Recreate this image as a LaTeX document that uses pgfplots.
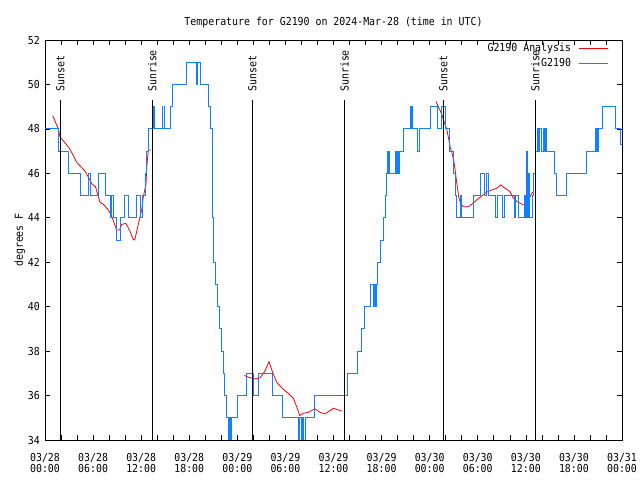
\documentclass[border=0pt]{standalone}
\usepackage{fontspec}
\newfontfamily\gfont[FakeStretch=0.9]{DejaVu Sans Mono}
\usepackage{pgfplots}
\pgfplotsset{compat=1.18}
\definecolor{gblue}{RGB}{16,128,255}
\newcommand{\gf}{\gfont\fontsize{11bp}{11bp}\selectfont}
\begin{document}
\begin{tikzpicture}
\path[use as bounding box] (-45bp,-40bp) rectangle (595bp,440bp);
\begin{axis}[
  at={(0bp,0bp)}, anchor=south west,
  scale only axis, width=577bp, height=400bp,
  xmin=0, xmax=72, ymin=34, ymax=52,
  xtick={0,6,...,72}, minor xtick={0,2,...,72},
  ytick={34,36,...,52},
  tick align=inside, major tick length=5bp, minor tick length=5bp,
  tick style={black, line width=0.6bp},
  axis line style={line width=0.8bp},
  /pgf/number format/assume math mode=true,
  ticklabel style={font=\gf},
  yticklabel style={anchor=east, inner sep=0pt, xshift=-5bp},
  xticklabel style={align=center, anchor=north, inner sep=0pt, yshift=-13bp},
  xticklabels={{03/28\\00:00},{03/28\\06:00},{03/28\\12:00},{03/28\\18:00},{03/29\\00:00},{03/29\\06:00},{03/29\\12:00},{03/29\\18:00},{03/30\\00:00},{03/30\\06:00},{03/30\\12:00},{03/30\\18:00},{03/31\\00:00}},
  legend plot pos=right,
  legend cell align=right,
  legend style={draw=none, fill=none, inner sep=0pt, outer sep=0pt,
    at={(axis description cs:1,1)}, anchor=north east, xshift=-13bp, yshift=-4bp,
    nodes={inner sep=0pt, text height=8bp, text depth=2bp, font=\gf},
    column sep=8bp, row sep=4.4bp},
]
% Analysis (red)
\addplot[red, line width=0.8bp, legend image code/.code={\draw[red, line width=1bp] (0bp,0bp) -- (29bp,0bp);}] coordinates {
(0.96,48.6) (1.66,48.0) (1.87,47.65) (3.1,47.1) (3.95,46.5) (5.0,46.1) (5.6,45.7) (5.9,45.5) (6.3,45.4)
(6.86,44.7) (7.3,44.6) (7.9,44.35) (8.3,44.1) (8.94,43.45) (9.3,43.45) (9.57,43.7) (10.1,43.75)
(10.6,43.4) (11.0,43.03) (11.2,43.0) (11.64,43.7) (12.06,44.35) (12.27,44.95) (12.6,45.5) (12.7,46.3)
(12.9,47.05) (13.2,47.05)};
\addlegendentry{G2190 Analysis}
\addplot[red, line width=0.8bp, forget plot] coordinates {
(24.87,36.9) (25.6,36.8) (26.3,36.75) (26.83,36.8) (27.45,37.1) (27.95,37.53) (28.3,37.15) (28.9,36.6)
(29.74,36.28) (30.36,36.1) (31.0,35.87) (31.4,35.5) (31.8,35.1) (32.2,35.2) (32.86,35.25) (33.7,35.4)
(34.3,35.25) (34.94,35.17) (35.98,35.43) (37.02,35.3)};
\addplot[red, line width=0.8bp, forget plot] coordinates {
(48.79,49.23) (49.08,49.0) (49.5,48.67) (49.79,48.33) (50.12,48.0) (50.4,47.5) (50.54,47.2) (50.8,46.9)
(51.04,46.5) (51.2,46.1) (51.37,45.6) (51.62,44.95) (51.87,44.6) (52.2,44.5) (52.83,44.5) (53.24,44.6)
(53.87,44.8) (54.49,44.98) (55.1,45.15) (55.74,45.25) (56.36,45.33) (56.86,45.48) (57.4,45.33) (58.02,45.18)
(58.44,44.88) (58.94,44.72) (59.48,44.62) (60.02,44.53) (60.3,44.7) (60.52,44.95) (60.73,45.1) (60.94,45.18)};
% Observations (blue)
\addplot[gblue, line width=0.9bp, const plot, legend image code/.code={\draw[gblue, line width=1bp] (0bp,0bp) -- (29bp,0bp);}] coordinates {
(0,48) (1.66,47) (2.9,46) (4.45,45) (5.45,46) (5.62,45) (6.61,46) (7.53,45) (8.2,44) (8.35,45) (8.55,44)
(8.94,43) (9.44,44) (9.86,45) (10.36,44) (11.35,45) (11.85,44) (12.1,45) (12.52,46) (12.7,47) (12.94,48)
(13.55,49) (13.65,48) (14.6,49) (14.7,48) (14.85,49) (14.95,48) (15.7,49) (15.95,50) (17.68,51) (18.84,50)
(18.92,51) (19.0,50) (19.08,51) (19.34,50) (20.4,49) (20.6,48) (20.84,46) (20.95,44) (21.05,42) (21.25,41)
(21.55,40) (21.75,39) (22.0,38) (22.25,37) (22.45,36) (22.7,35) (22.95,34) (23.05,35) (23.17,34) (23.28,35)
(24.0,36) (25.16,37) (26.0,36) (26.66,37) (28.33,36) (29.6,35) (31.66,34) (31.8,35) (31.95,34) (32.1,35)
(32.3,34) (32.45,35) (33.65,36) (37.75,37) (38.95,38) (39.45,39) (39.9,40) (40.6,41)
(41.0,40) (41.1,41) (41.2,40) (41.3,41) (41.47,42) (41.85,43) (42.2,44) (42.45,45) (42.6,46) (42.7,47)
(42.78,46) (42.85,47) (42.92,46) (43.7,47) (43.85,46) (44.0,47) (44.1,46) (44.2,47) (44.75,48) (45.55,49)
(45.62,48) (45.72,49) (45.85,48) (46.5,47) (46.75,48) (48.1,49) (48.95,48) (49.5,49) (50.0,48) (50.5,47)
(51.0,46) (51.2,45) (51.37,44) (51.8,45) (51.95,44) (53.45,45) (54.35,46) (54.78,45) (55.05,46) (55.3,45)
(56.2,44) (56.5,45) (57.1,44) (57.28,45) (58.6,44) (58.72,45) (59.1,44) (59.86,45) (60.0,44) (60.08,47)
(60.16,44) (60.28,46) (60.4,44) (60.77,45) (61.0,46) (61.15,47) (61.43,48) (61.6,47) (61.75,48) (61.95,47)
(62.15,48) (62.35,47) (62.5,48) (62.6,47) (63.6,46) (63.85,45) (65.1,46) (67.6,47)
(68.67,48) (68.75,47) (68.9,48) (69.0,47) (69.09,48) (69.6,49) (71.17,48) (71.84,47.3) (72,47.3)};
\addlegendentry{G2190}
% Sunset / sunrise markers
\addplot[black, line width=0.8bp, forget plot] coordinates {(1.92,34) (1.92,49.3)};
\addplot[black, line width=0.8bp, forget plot] coordinates {(13.39,34) (13.39,49.3)};
\addplot[black, line width=0.8bp, forget plot] coordinates {(25.87,34) (25.87,49.3)};
\addplot[black, line width=0.8bp, forget plot] coordinates {(37.37,34) (37.37,49.3)};
\addplot[black, line width=0.8bp, forget plot] coordinates {(49.7,34) (49.7,49.3)};
\addplot[black, line width=0.8bp, forget plot] coordinates {(61.18,34) (61.18,49.3)};
\node[rotate=90, anchor=west, inner sep=0pt, font=\gf] at (axis cs:1.92,49.66) {Sunset};
\node[rotate=90, anchor=west, inner sep=0pt, font=\gf] at (axis cs:13.39,49.66) {Sunrise};
\node[rotate=90, anchor=west, inner sep=0pt, font=\gf] at (axis cs:25.87,49.66) {Sunset};
\node[rotate=90, anchor=west, inner sep=0pt, font=\gf] at (axis cs:37.37,49.66) {Sunrise};
\node[rotate=90, anchor=west, inner sep=0pt, font=\gf] at (axis cs:49.7,49.66) {Sunset};
\node[rotate=90, anchor=west, inner sep=0pt, font=\gf] at (axis cs:61.18,49.66) {Sunrise};
\end{axis}
\node[font=\gf] at (288.5bp,417.7bp) {Temperature for G2190 on 2024-Mar-28 (time in UTC)};
\node[font=\gf, rotate=90] at (-25bp,200bp) {degrees F};
\end{tikzpicture}
\end{document}
